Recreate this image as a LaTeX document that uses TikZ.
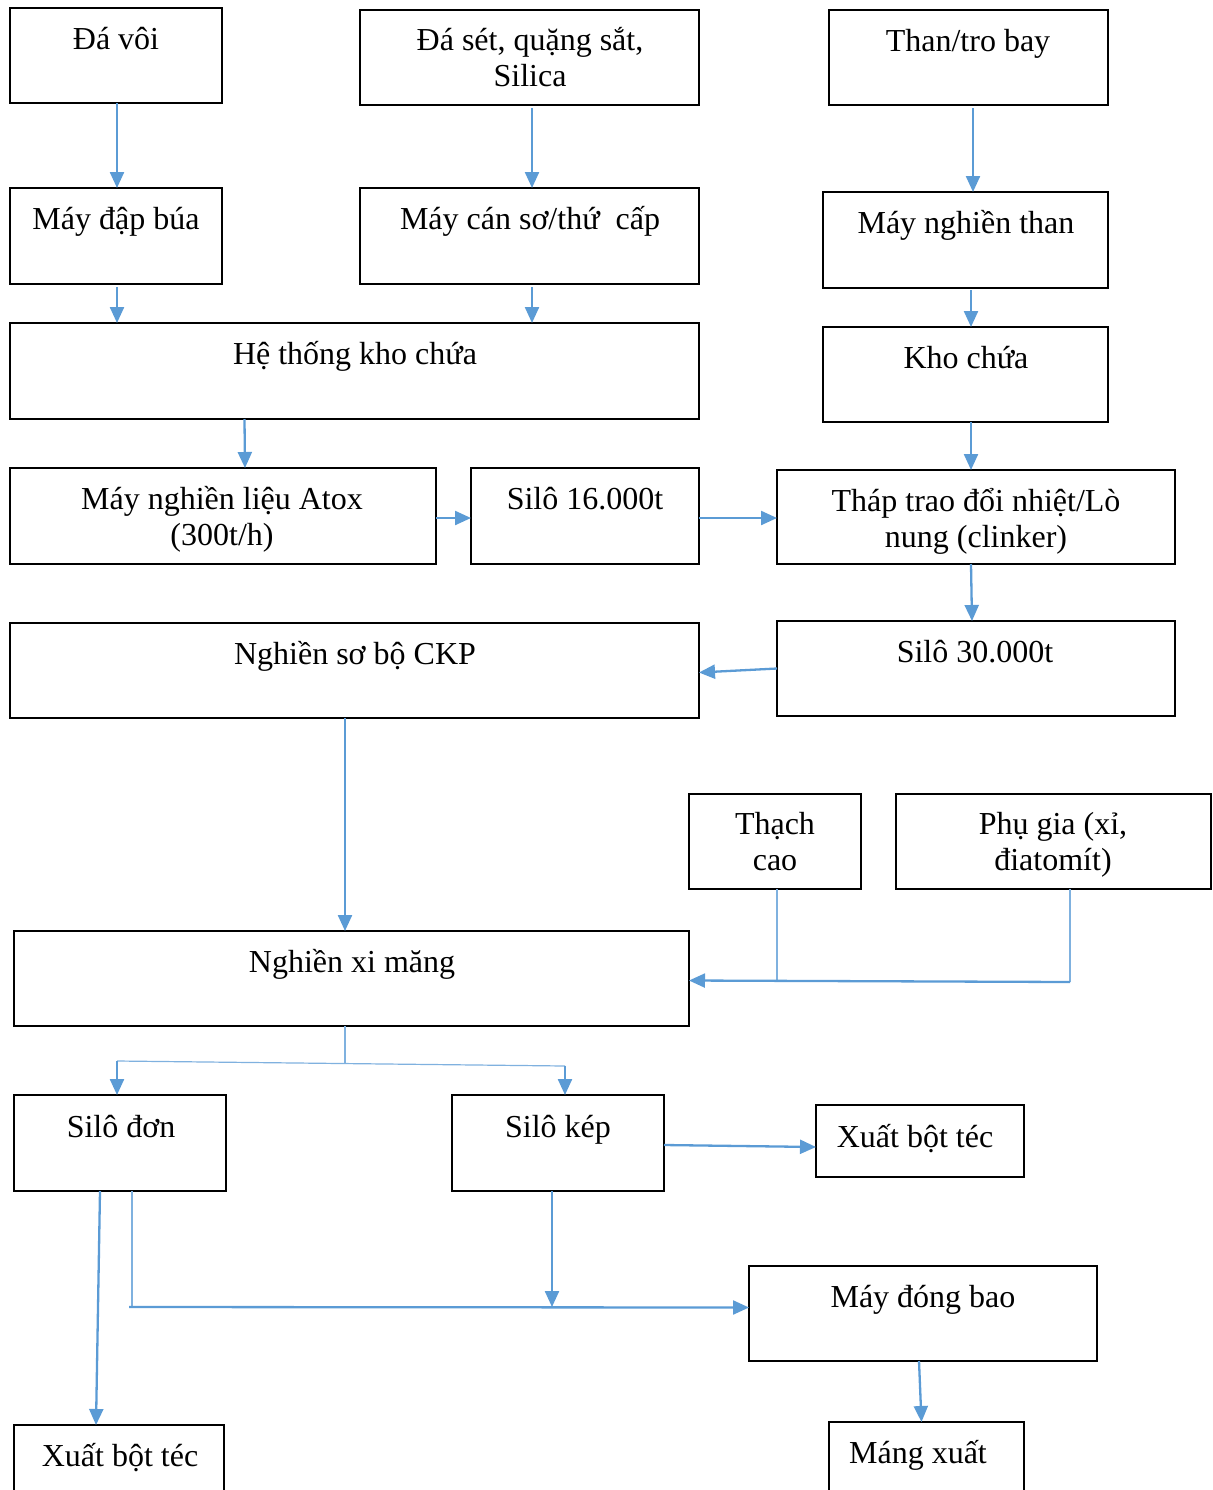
\documentclass[tikz,border=0pt]{standalone}
\usepackage{fontspec}
\setmainfont{Liberation Serif}
\usetikzlibrary{arrows.meta}
\definecolor{flow}{HTML}{5B9BD5}
\definecolor{flowthin}{HTML}{7FB1DF}

% box: name, left, top, right, bottom, text centre x, text baseline y, text
\newcommand\procbox[8]{%
  \node[box, minimum width={(#4-#2)*0.5pt}, minimum height={(#5-#3)*0.5pt}, anchor=north west] (#1) at (#2,#3) {};
  \node[txt] (#1-t) at (#6,#7) {#8};
}

\begin{document}
\begin{tikzpicture}[x=0.5pt,y=-0.5pt,
  box/.style={draw=black, line width=1pt, inner sep=0pt, outer sep=0pt},
  txt/.style={anchor=base, align=center, inner sep=0pt, font=\fontsize{16pt}{18pt}\selectfont},
  arr/.style={draw=flow, line width=1.15pt, -{Triangle[length=8pt,width=7pt]}},
  link/.style={draw=flow, line width=1.15pt},
  thinlink/.style={draw=flowthin, line width=0.6pt}]
\clip (0,0) rectangle (1213,1490);

% raw materials and crushing (baseline of the last text line given)
\procbox{davoi}{10}{8}{222}{103}{116}{49}{Đá vôi}
\procbox{daset}{360}{10}{699}{105}{530}{86}{Đá sét, quặng sắt,\\Silica}
\procbox{than}{829}{10}{1108}{105}{968}{51}{Than/tro bay}
\procbox{maydap}{10}{188}{222}{284}{116}{229}{Máy đập búa}
\procbox{maycan}{360}{188}{699}{284}{530}{229}{Máy cán sơ/thứ~~cấp}
\procbox{nghienthan}{823}{192}{1108}{288}{966}{233}{Máy nghiền than}
\procbox{hethong}{10}{323}{699}{419}{355}{364}{Hệ thống kho chứa}
\procbox{khochua}{823}{327}{1108}{422}{966}{368}{Kho chứa}

% raw meal and kiln
\procbox{atox}{10}{468}{436}{564}{222}{545}{Máy nghiền liệu Atox\\(300t/h)}
\procbox{silo16}{471}{468}{699}{564}{585}{509}{Silô 16.000t}
\procbox{thap}{777}{470}{1175}{564}{976}{547}{Tháp trao đổi nhiệt/Lò\\nung (clinker)}
\procbox{ckp}{10}{623}{699}{718}{355}{664}{Nghiền sơ bộ CKP}
\procbox{silo30}{777}{621}{1175}{716}{975}{662}{Silô 30.000t}

% cement grinding
\procbox{thachcao}{689}{794}{861}{889}{775}{870}{Thạch\\cao}
\procbox{phugia}{896}{794}{1211}{889}{1053}{870}{Phụ gia (xỉ,\\điatomít)}
\procbox{nxm}{14}{931}{689}{1026}{352}{972}{Nghiền xi măng}

% storage and dispatch
\procbox{silodon}{14}{1095}{226}{1191}{121}{1137}{Silô đơn}
\procbox{silokep}{452}{1095}{664}{1191}{558}{1137}{Silô kép}
\procbox{xuat1}{816}{1105}{1024}{1177}{915}{1147}{Xuất bột téc}
\procbox{dongbao}{749}{1266}{1097}{1361}{923}{1307}{Máy đóng bao}
\procbox{xuat2}{14}{1425}{224}{1520}{120}{1466}{Xuất bột téc}
\procbox{mang}{829}{1422}{1024}{1520}{918}{1463}{Máng xuất}

% junction points
\coordinate (jtc) at (777,981);
\coordinate (jpg) at (1070,982);
\coordinate (jn) at (345,1063);
\coordinate (jl) at (117,1061);
\coordinate (jr) at (565,1066);
\coordinate (jb0) at (129,1307);
\coordinate (jb1) at (132,1307);
\coordinate (jk) at (552,1307);

% upper flow
\draw[arr] ([xshift=0.5pt]davoi.south) -- ([xshift=0.5pt]maydap.north);
\draw[arr] ([xshift=1.25pt,yshift=-1.5pt]daset.south) -- ([xshift=1.25pt]maycan.north);
\draw[arr] ([xshift=2.25pt,yshift=-1.5pt]than.south) -- ([xshift=3.75pt]nghienthan.north);
\draw[arr] ([xshift=0.5pt,yshift=-1.5pt]maydap.south) -- ([xshift=0.5pt]maydap.south |- hethong.north);
\draw[arr] ([xshift=1.25pt,yshift=-1.5pt]maycan.south) -- ([xshift=1.25pt]maycan.south |- hethong.north);
\draw[arr] ([xshift=2.75pt,yshift=-1pt]nghienthan.south) -- ([xshift=2.75pt]khochua.north);
\draw[arr] ([xshift=-55pt]hethong.south) -- ([xshift=11pt]atox.north);
\draw[arr] ([xshift=2.75pt]khochua.south) -- ([xshift=-2.5pt]thap.north);
\draw[arr] ([yshift=-1pt]atox.east) -- ([yshift=-1pt]silo16.west);
\draw[arr] ([yshift=-1pt]silo16.east) -- ([yshift=-0.5pt]thap.west);
\draw[arr] ([xshift=-2.5pt]thap.south) -- ([xshift=-2pt]silo30.north);
\draw[arr] (silo30.west) -- ([yshift=-1pt]ckp.east);
\draw[arr] ([xshift=-4.75pt]ckp.south) -- ([xshift=-3.25pt]nxm.north);

% additives into cement grinding
\draw[thinlink] ([xshift=1pt]thachcao.south) -- (jtc);
\draw[thinlink] ([xshift=8.25pt]phugia.south) -- (jpg);
\draw[arr] (jpg) -- ([yshift=-1pt]nxm.east);

% split to silos
\draw[thinlink] ([xshift=-3.25pt]nxm.south) -- (jn);
\draw[thinlink] (jl) -- (jr);
\draw[arr] (jl) -- ([xshift=-1.5pt]silodon.north);
\draw[arr] (jr) -- ([xshift=3.5pt]silokep.north);

% dispatch
\draw[arr] ([yshift=-1pt]silokep.east) -- ([yshift=-3pt]xuat1.west);
\draw[arr] ([xshift=-10pt]silodon.south) -- ([xshift=-11.5pt]xuat2.north);
\draw[thinlink] ([xshift=6pt]silodon.south) -- (jb1);
\draw[arr] (jb0) -- ([yshift=3pt]dongbao.west);
\draw[arr] ([xshift=-3pt]silokep.south) -- (jk);
\draw[arr] ([xshift=-2pt]dongbao.south) -- ([xshift=-2.5pt]mang.north);
\end{tikzpicture}
\end{document}
